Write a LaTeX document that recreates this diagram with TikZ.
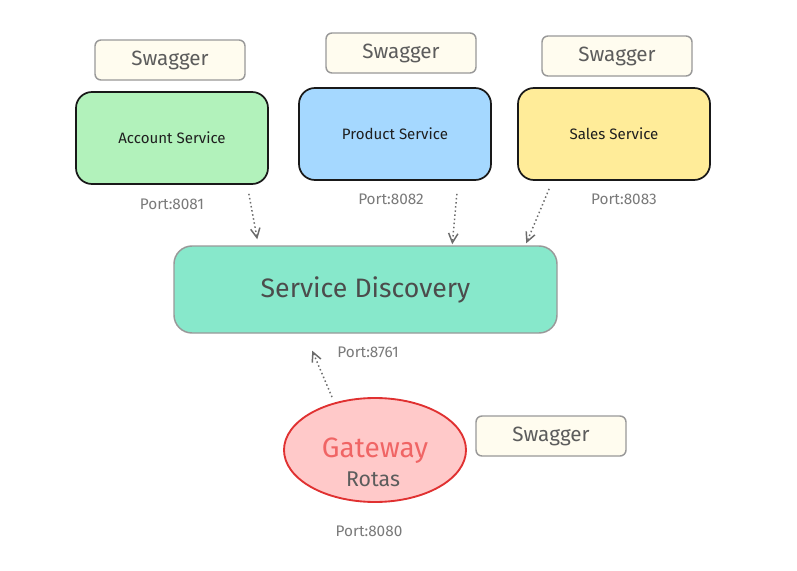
\documentclass[tikz,border=0pt]{standalone}
\usepackage{fontspec}
\setmainfont{Fira Sans}
\usetikzlibrary{arrows.meta,patterns,calc,shapes.geometric}
\newlength{\pxl}\setlength{\pxl}{0.75pt}
\definecolor{accfill}{HTML}{B2F2BB}
\definecolor{prodfill}{HTML}{A5D8FF}
\definecolor{salesfill}{HTML}{FFEC99}
\definecolor{sdfill}{HTML}{87E8CB}
\definecolor{gwfill}{HTML}{FFC9C9}
\definecolor{gwline}{HTML}{E03131}
\definecolor{gwtext}{HTML}{F06565}
\definecolor{swfill}{HTML}{FFFCEF}
\definecolor{swhatch}{HTML}{FBF1CF}
\definecolor{txtgray}{HTML}{5C5C5C}
\definecolor{portgray}{HTML}{7A7A7A}
\definecolor{arrgray}{HTML}{6B6B6B}
\tikzset{
  swbox/.style={draw=black!40, line width=1.1pt, rounded corners=6\pxl,
    fill=swfill, preaction={fill=swfill}, preaction={pattern=north east lines, pattern color=swhatch},
    minimum width=150\pxl, minimum height=40\pxl, inner sep=0pt,
    font=\fontsize{15.5}{17}\selectfont, text=txtgray},
  svcbox/.style={draw=black!90, line width=1.3pt, rounded corners=16\pxl,
    minimum width=192\pxl, minimum height=92\pxl, inner sep=0pt,
    font=\fontsize{11.3}{13}\selectfont, text=black!88},
  portlbl/.style={font=\fontsize{11.5}{13}\selectfont, text=portgray, inner sep=0pt},
  arr/.style={draw=arrgray, line width=1.1pt, dotted, -{Straight Barb[length=7pt,width=7pt]}}
}
\begin{document}
\begin{tikzpicture}[x=0.75pt,y=-0.75pt]
\fill[white] (0,0) rectangle (797,571);
\useasboundingbox (0,0) rectangle (797,571);

\node[swbox] (sw1) at (170,60) {Swagger};
\node[swbox] (sw2) at (401,53) {Swagger};
\node[swbox] (sw3) at (617,56) {Swagger};
\node[swbox] (sw4) at (551,436) {Swagger};

\node[svcbox, fill=accfill] (acc) at (172,138) {Account Service};
\node[svcbox, fill=prodfill] (prod) at (395,134) {Product Service};
\node[svcbox, fill=salesfill] (sales) at (614,134) {Sales Service};

\node[portlbl] (p1) at (172,204) {Port:8081};
\node[portlbl] (p2) at (391,199) {Port:8082};
\node[portlbl] (p3) at (624,199) {Port:8083};

\node[draw=black!40, line width=1.1pt, rounded corners=18\pxl, fill=sdfill,
  minimum width=383\pxl, minimum height=87\pxl, inner sep=0pt,
  font=\fontsize{20}{22}\selectfont, text=black!70] (sd) at (365.5,289.5) {Service Discovery};

\node[portlbl] (p4) at (368,352) {Port:8761};

\node[ellipse, draw=gwline, line width=1.4pt, fill=gwfill,
  minimum width=182\pxl, minimum height=104\pxl, inner sep=0pt] (gw) at (375,450) {};
\node[font=\fontsize{21}{23}\selectfont, text=gwtext, inner sep=0pt] (gwt) at (375,451) {Gateway};
\node[font=\fontsize{16}{18}\selectfont, text=txtgray, inner sep=0pt] (gwr) at (373,479) {Rotas};

\node[portlbl] (p5) at (369,531) {Port:8080};

\draw[arr] ($(acc.south east)+(-20,9)$) -- ($(sd.north west)+(84,-6)$);
\draw[arr] ($(prod.south east)+(-35,13)$) -- ($(sd.north west)+(279,-1)$);
\draw[arr] ($(sales.south west)+(32,8)$) -- ($(sd.north west)+(353,-2)$);
\draw[arr] ($(gw.north)+(-43,0)$) -- ($(sd.south west)+(139,17)$);
\end{tikzpicture}
\end{document}
